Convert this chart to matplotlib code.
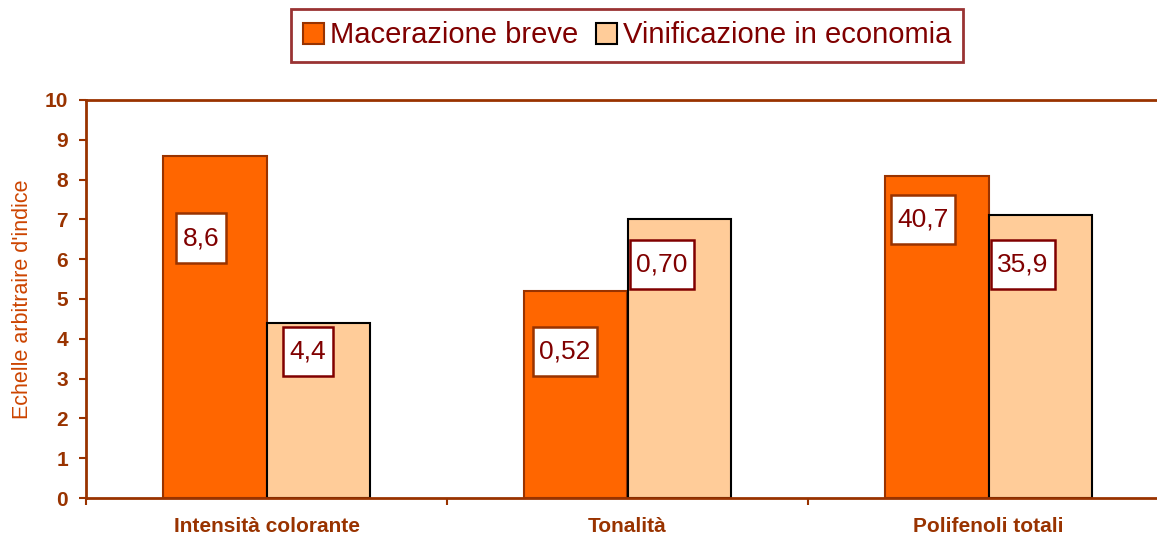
import matplotlib.pyplot as plt
import numpy as np
from matplotlib.path import Path

plt.rcParams["font.family"] = ["Liberation Sans", "DejaVu Sans"]

categories = ["Intensità colorante", "Tonalità", "Polifenoli totali"]
series_names = ["Macerazione breve", "Vinificazione in economia"]
heights_breve = [8.6, 5.2, 8.1]
heights_econ = [4.4, 7.0, 7.1]
labels_breve = ["8,6", "0,52", "40,7"]
labels_econ = ["4,4", "0,70", "35,9"]

# where the value boxes sit (y in axis units, x offset from bar centre)
box_y_breve = [6.53, 3.68, 7.0]
box_y_econ = [3.68, 5.87, 5.87]
box_dx_breve = [-0.039, -0.030, -0.039]
box_dx_econ = [-0.028, -0.047, -0.047]

C_AXIS = "#993300"
C_BREVE = "#FF6600"
C_ECON = "#FFCC99"
C_TEXT = "#800000"


def tall_box(x0, y0, width, height, mutation_size):
    # square box, more padding top/bottom than sides
    px = mutation_size * 0.25
    py = mutation_size * 0.48
    x0, x1 = x0 - px, x0 + width + px
    y0, y1 = y0 - py, y0 + height + py
    return Path([(x0, y0), (x1, y0), (x1, y1), (x0, y1), (x0, y0)],
                closed=True)


fig = plt.figure(figsize=(11.57, 5.39), dpi=100)
ax = fig.add_axes([86 / 1157, 41 / 539, 1083 / 1157, 398 / 539])

x = np.arange(len(categories))
w = 0.286
b1 = ax.bar(x + 0.5 - w, heights_breve, w, align="edge", color=C_BREVE,
            edgecolor=C_AXIS, linewidth=1.5, label=series_names[0], zorder=2)
b2 = ax.bar(x + 0.5, heights_econ, w, align="edge", color=C_ECON,
            edgecolor="black", linewidth=1.5, label=series_names[1], zorder=2)

for i in range(len(categories)):
    ax.text(x[i] + 0.5 - w / 2 + box_dx_breve[i], box_y_breve[i], labels_breve[i],
            ha="center", va="center", fontsize=19, color=C_TEXT, zorder=3,
            bbox=dict(boxstyle=tall_box, facecolor="white",
                      edgecolor=C_AXIS, linewidth=1.8))
    ax.text(x[i] + 0.5 + w / 2 + box_dx_econ[i], box_y_econ[i], labels_econ[i],
            ha="center", va="center", fontsize=19, color=C_TEXT, zorder=3,
            bbox=dict(boxstyle=tall_box, facecolor="white",
                      edgecolor=C_TEXT, linewidth=1.8))

ax.set_xlim(0, 3)
ax.set_ylim(0, 10)
ax.set_yticks(range(0, 11))
ax.set_xticks([0, 1, 2, 3])
ax.set_xticklabels([])
ax.set_xticks(x + 0.5, minor=True)
ax.set_xticklabels(categories, minor=True, fontsize=15, fontweight="bold", color=C_AXIS)
ax.tick_params(axis="x", which="minor", length=0, pad=14)
ax.tick_params(axis="x", which="major", direction="out", length=5, width=1.5, color=C_AXIS)
ax.tick_params(axis="y", direction="out", length=5, width=1.5, color=C_AXIS,
               labelsize=15, labelcolor=C_AXIS, pad=8)
for lab in ax.get_yticklabels():
    lab.set_fontweight("bold")

for side in ["left", "bottom", "top"]:
    ax.spines[side].set_color(C_AXIS)
    ax.spines[side].set_linewidth(2)
ax.spines["right"].set_visible(False)

ax.set_ylabel("Echelle arbitraire d'indice", fontsize=15.5, color="#CC4400", labelpad=8)

leg = fig.legend(handles=[b1, b2], loc="upper center", bbox_to_anchor=(0.542, 0.983),
                 ncol=2, fontsize=21, frameon=True, fancybox=False,
                 handlelength=0.72, handleheight=0.72, handletextpad=0.2,
                 columnspacing=0.6, borderpad=0.42, borderaxespad=0)
leg.get_frame().set_edgecolor(C_TEXT)
leg.get_frame().set_linewidth(2)
for t in leg.get_texts():
    t.set_color(C_TEXT)

fig.savefig("out.png", dpi=100)
